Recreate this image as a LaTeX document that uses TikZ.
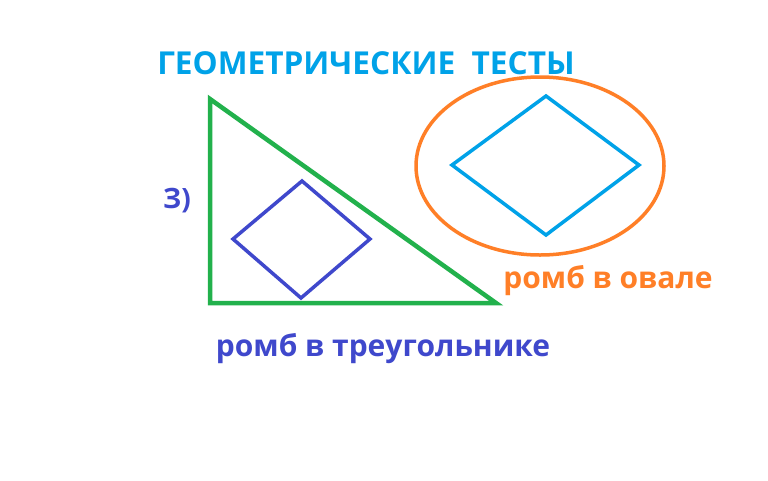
\documentclass[tikz,border=0pt]{standalone}
\usepackage{fontspec}
\setmainfont{Open Sans}
\usepackage{tikz}
\usetikzlibrary{positioning,calc,shapes}

\definecolor{paintgreen}{HTML}{22B14C}
\definecolor{paintorange}{HTML}{FF7F27}
\definecolor{paintcyan}{HTML}{00A2E8}
\definecolor{paintblue}{HTML}{3F48CC}

\begin{document}
\begin{tikzpicture}[x=1pt,y=-1pt,
  label text/.style={font=\bfseries\fontsize{30}{34}\selectfont,inner sep=0pt}]
\useasboundingbox[fill=white] (0,0) rectangle (768,480);

% Title
\node[label text,text=paintcyan,font=\bfseries\fontsize{31.6}{36}\selectfont] (title) at (366,63) {ГЕОМЕТРИЧЕСКИЕ\ \ ТЕСТЫ};

% Triangle with rhombus inside
\coordinate (triTop) at (210,99);
\coordinate (triCorner) at (210,303);
\coordinate (triRight) at (496,303);
\draw[paintgreen,line width=4.5pt,line join=miter] (triTop) -- (triCorner) -- (triRight) -- cycle;
\draw[paintblue,line width=3.5pt] (302,181) -- (370,239) -- (301,298) -- (233,239) -- cycle;

% Number
\node[label text,text=paintblue,font=\bfseries\fontsize{28}{32}\selectfont] (num) at (177,201) {З)};

% Oval with rhombus inside
\draw[paintorange,line width=3.5pt] (540,166) ellipse [x radius=124, y radius=89];
\draw[paintcyan,line width=3.5pt] (546,96) -- (639,165) -- (546,235) -- (452,165) -- cycle;

% Captions
\node[label text,text=paintblue] (capTri) at (383,349) {ромб в треугольнике};
\node[label text,text=paintorange] (capOval) at (608,281) {ромб в овале};
\end{tikzpicture}
\end{document}
